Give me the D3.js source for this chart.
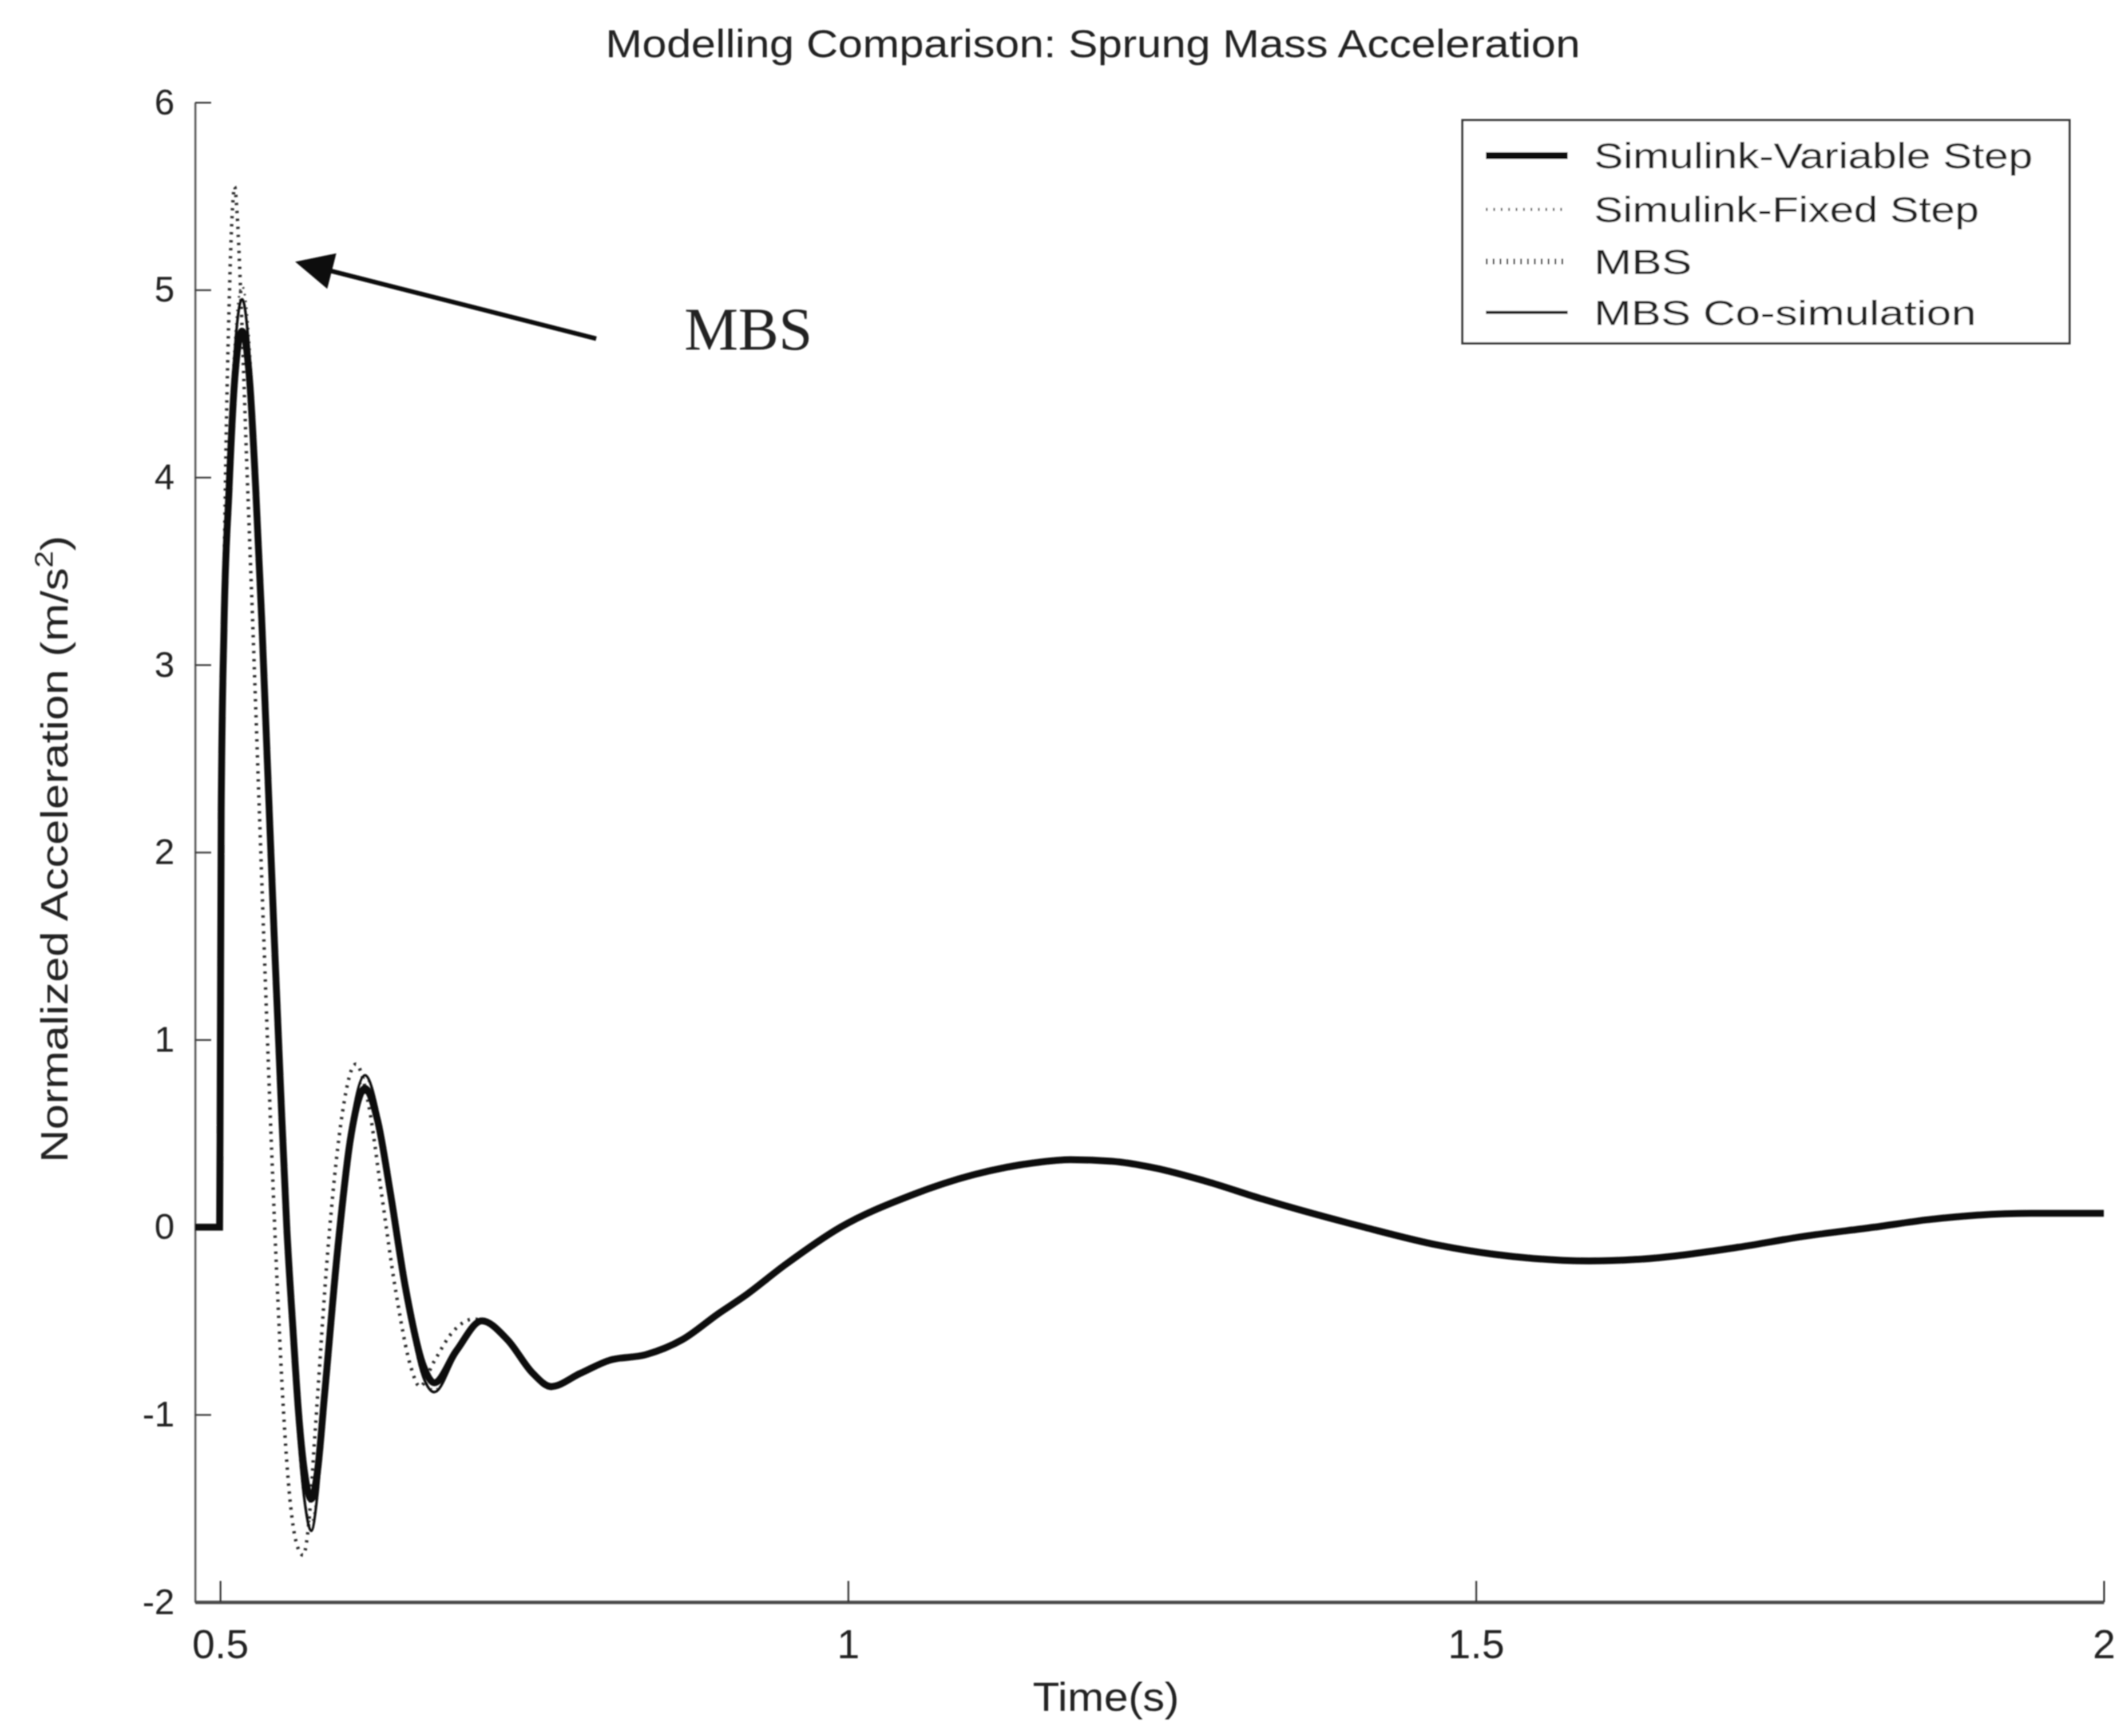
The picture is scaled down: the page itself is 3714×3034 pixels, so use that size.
<!DOCTYPE html>
<html>
<head>
<meta charset="utf-8">
<script src="https://cdn.jsdelivr.net/npm/d3@7"></script>
<style>
  html, body { margin: 0; padding: 0; background: #ffffff; }
  svg { display: block; }
</style>
</head>
<body>
<svg id="chart" width="3714" height="3034"></svg>
<script>
// ---- Data: sprung mass acceleration (m/s^2) against time (s) ----
const timeSimulink = [0.48, 0.4995, 0.5, 0.5008, 0.503, 0.507, 0.5114, 0.5174, 0.5236, 0.5282,
  0.533, 0.538, 0.543, 0.548, 0.553, 0.558, 0.5625, 0.567, 0.5725, 0.5775,
  0.583, 0.5935, 0.6037, 0.6153, 0.6253, 0.6357, 0.6472, 0.6618, 0.6705, 0.688,
  0.7083, 0.7287, 0.749, 0.7634, 0.7867, 0.81, 0.839, 0.868, 0.897, 0.917,
  0.95, 0.994, 1.05, 1.1, 1.15, 1.177, 1.21, 1.245, 1.285, 1.33, 1.411,
  1.47, 1.546, 1.59, 1.628, 1.709, 1.76, 1.817, 1.86, 1.899, 1.942, 2.0];

const accVariableStep = [0, 0, 0.76, 2.22, 3.2, 3.93, 4.51, 4.78, 4.5, 3.95,
  3.25, 2.4, 1.55, 0.75, 0.0, -0.55, -1.0, -1.3, -1.45, -1.3,
  -0.9, -0.12, 0.47, 0.74, 0.57, 0.175, -0.31, -0.74, -0.83, -0.66,
  -0.5, -0.6, -0.78, -0.85, -0.78, -0.71, -0.68, -0.6, -0.46, -0.37,
  -0.2, 0.0, 0.17, 0.28, 0.345, 0.36, 0.352, 0.315, 0.245, 0.15, 0.0,
  -0.096, -0.167, -0.18, -0.172, -0.107, -0.05, 0.0, 0.04, 0.064, 0.074, 0.074];

const accFixedStep = [0, 0, 0.78, 2.32, 3.32, 4.1, 4.7, 5.02, 4.68, 4.06,
  3.3, 2.42, 1.5, 0.64, -0.12, -0.7, -1.15, -1.45, -1.58, -1.4,
  -0.93, -0.1, 0.52, 0.8, 0.62, 0.18, -0.33, -0.8, -0.87, -0.68,
  -0.5, -0.6, -0.79, -0.86, -0.78, -0.71, -0.68, -0.6, -0.46, -0.37,
  -0.2, 0.0, 0.17, 0.28, 0.345, 0.36, 0.352, 0.315, 0.245, 0.15, 0.0,
  -0.096, -0.167, -0.18, -0.172, -0.107, -0.05, 0.0, 0.04, 0.064, 0.074, 0.074];

const accCoSimulation = [0, 0, 0.78, 2.3, 3.3, 4.05, 4.65, 4.95, 4.62, 4.02,
  3.28, 2.4, 1.5, 0.66, -0.1, -0.67, -1.13, -1.45, -1.62, -1.42,
  -0.95, -0.1, 0.52, 0.81, 0.62, 0.18, -0.33, -0.8, -0.88, -0.68,
  -0.5, -0.6, -0.79, -0.86, -0.78, -0.71, -0.68, -0.6, -0.46, -0.37,
  -0.2, 0.0, 0.17, 0.28, 0.345, 0.36, 0.352, 0.315, 0.245, 0.15, 0.0,
  -0.096, -0.167, -0.18, -0.172, -0.107, -0.05, 0.0, 0.04, 0.064, 0.074, 0.074];

const timeMBS = [0.48, 0.4995, 0.5, 0.5015, 0.504, 0.507, 0.5095, 0.5115, 0.5135, 0.5165,
  0.521, 0.526, 0.531, 0.536, 0.541, 0.546, 0.551, 0.5555, 0.5605, 0.566,
  0.5705, 0.5755, 0.586, 0.596, 0.608, 0.618, 0.628, 0.64, 0.652, 0.659,
  0.67, 0.685, 0.702, 0.7083, 0.7287, 0.749, 0.7634, 0.7867, 0.81, 0.839,
  0.868, 0.897, 0.917, 0.95, 0.994, 1.05, 1.1, 1.15, 1.177, 1.21,
  1.245, 1.285, 1.33, 1.411, 1.47, 1.546, 1.59, 1.628, 1.709, 1.76,
  1.817, 1.86, 1.899, 1.942, 2.0];

const accMBS = [0, 0, 0.8, 2.5, 3.9, 4.9, 5.4, 5.55, 5.4, 4.95,
  4.1, 3.2, 2.25, 1.3, 0.4, -0.4, -1.05, -1.45, -1.68, -1.75,
  -1.58, -1.1, -0.1, 0.55, 0.87, 0.66, 0.2, -0.35, -0.75, -0.85,
  -0.72, -0.56, -0.49, -0.5, -0.6, -0.79, -0.86, -0.78, -0.71, -0.68,
  -0.6, -0.46, -0.37, -0.2, 0.0, 0.17, 0.28, 0.345, 0.36, 0.352,
  0.315, 0.245, 0.15, 0.0, -0.096, -0.167, -0.18, -0.172, -0.107, -0.05,
  0.0, 0.04, 0.064, 0.074, 0.074];

const seriesNames = ["Simulink-Variable Step", "Simulink-Fixed Step", "MBS", "MBS Co-simulation"];
const xTickValues = [0.5, 1, 1.5, 2];
const yTickValues = [-2, -1, 0, 1, 2, 3, 4, 5, 6];
const xDomain = [0.48, 2];
const yDomain = [-2, 6];

const titleText = "Modelling Comparison: Sprung Mass Acceleration";
const xLabelText = "Time(s)";
const yLabelMain = "Normalized Acceleration (m/s";
const yLabelSup = "2";
const yLabelEnd = ")";

// callout: arrow tail and tip, label anchor (data units)
const calloutText = "MBS";
const calloutTail = [0.7994, 4.74];
const calloutTip = [0.5597, 5.15];
const calloutLabelAt = [0.8696, 4.68];

// ---- Layout ----
const W = 3714, H = 3034;
const plot = { left: 341, right: 3677, top: 179, bottom: 2800 };
const sansFont = "'Liberation Sans', Arial, Helvetica, sans-serif";
const serifFont = "'Liberation Serif', 'Times New Roman', serif";

const svg = d3.select("#chart").attr("viewBox", `0 0 ${W} ${H}`);
svg.append("rect").attr("width", W).attr("height", H).attr("fill", "#ffffff");

const defs = svg.append("defs");
defs.append("filter").attr("id", "soft").attr("x", "-5%").attr("y", "-5%").attr("width", "110%").attr("height", "110%")
  .append("feGaussianBlur").attr("stdDeviation", 1.3);

const root = svg.append("g").attr("filter", "url(#soft)");

const x = d3.scaleLinear().domain(xDomain).range([plot.left, plot.right]);
const y = d3.scaleLinear().domain(yDomain).range([plot.bottom, plot.top]);

// stretch a text element horizontally to a given width
function fitWidth(sel, width) {
  const w = sel.node().getBBox().width;
  if (w > 0) sel.attr("transform", `scale(${width / w},1)`);
}

// ---- Axes ----
const yAxis = d3.axisLeft(y).tickValues(yTickValues).tickSizeInner(-28).tickSizeOuter(0)
  .tickPadding(36).tickFormat(d => String(d));
const xAxis = d3.axisBottom(x).tickValues(xTickValues).tickSizeInner(-37).tickSizeOuter(0)
  .tickPadding(48).tickFormat(d => String(d));

const gy = root.append("g").attr("transform", `translate(${plot.left},0)`).call(yAxis);
const gx = root.append("g").attr("transform", `translate(0,${plot.bottom})`).call(xAxis);

gy.select(".domain").attr("stroke", "#5a5a5a").attr("stroke-width", 3.5);
gy.selectAll(".tick line").attr("stroke", "#3a3a3a").attr("stroke-width", 3);
gy.selectAll(".tick text").attr("font-family", sansFont).attr("font-size", 63).attr("fill", "#222");

gx.select(".domain").attr("stroke", "#4a4a4a").attr("stroke-width", 6);
gx.selectAll(".tick line").attr("stroke", "#333").attr("stroke-width", 3);
gx.selectAll(".tick text").attr("font-family", sansFont).attr("font-size", 71).attr("fill", "#222");

// ---- Series ----
const lineGen = d3.line()
  .x(d => x(d[0]))
  .y(d => y(d[1]))
  .curve(d3.curveMonotoneX);

const zip = (ts, vs) => ts.map((t, i) => [t, vs[i]]);

const series = [
  { name: seriesNames[2], data: zip(timeMBS, accMBS), color: "#2a2a2a", width: 6, dash: "4 10" },
  { name: seriesNames[1], data: zip(timeSimulink, accFixedStep), color: "#444", width: 4, dash: "3 9" },
  { name: seriesNames[0], data: zip(timeSimulink, accVariableStep), color: "#111", width: 12, dash: null },
  { name: seriesNames[3], data: zip(timeSimulink, accCoSimulation), color: "#111", width: 4.5, dash: null }
];

root.append("g").selectAll("path")
  .data(series)
  .join("path")
  .attr("d", s => lineGen(s.data))
  .attr("fill", "none")
  .attr("stroke", s => s.color)
  .attr("stroke-width", s => s.width)
  .attr("stroke-dasharray", s => s.dash)
  .attr("stroke-linejoin", "miter")
  .attr("stroke-miterlimit", 3);

// ---- Title and axis labels ----
const titleG = root.append("g").attr("transform", "translate(1910,100)");
const title = titleG.append("text").attr("text-anchor", "middle")
  .attr("font-family", sansFont).attr("font-size", 68).attr("fill", "#222").text(titleText);
fitWidth(title, 1704);

const xLabG = root.append("g").attr("transform", "translate(1933,2990)");
const xLab = xLabG.append("text").attr("text-anchor", "middle")
  .attr("font-family", sansFont).attr("font-size", 70).attr("fill", "#222").text(xLabelText);
fitWidth(xLab, 256);

const yLabG = root.append("g").attr("transform", "translate(118,1484) rotate(-90)");
const yLab = yLabG.append("text").attr("text-anchor", "middle")
  .attr("font-family", sansFont).attr("font-size", 66).attr("fill", "#222");
yLab.append("tspan").text(yLabelMain);
yLab.append("tspan").attr("font-size", 44).attr("dy", -26).text(yLabelSup);
yLab.append("tspan").attr("dy", 26).text(yLabelEnd);
fitWidth(yLab, 1096);

// ---- Callout arrow ----
const tail = [x(calloutTail[0]), y(calloutTail[1])];
const tip = [x(calloutTip[0]), y(calloutTip[1])];
const dx = tip[0] - tail[0], dy = tip[1] - tail[1];
const len = Math.hypot(dx, dy);
const ux = dx / len, uy = dy / len;
const headLen = 66, headHalf = 32;
const base = [tip[0] - ux * headLen, tip[1] - uy * headLen];
root.append("line")
  .attr("x1", tail[0]).attr("y1", tail[1])
  .attr("x2", base[0] + ux * 6).attr("y2", base[1] + uy * 6)
  .attr("stroke", "#111").attr("stroke-width", 8);
root.append("polygon")
  .attr("points", [
    tip,
    [base[0] - uy * headHalf, base[1] + ux * headHalf],
    [base[0] + uy * headHalf, base[1] - ux * headHalf]
  ].map(p => p.join(",")).join(" "))
  .attr("fill", "#111");
root.append("text")
  .attr("x", x(calloutLabelAt[0])).attr("y", y(calloutLabelAt[1]))
  .attr("font-family", serifFont).attr("font-size", 106).attr("fill", "#222")
  .text(calloutText);

// ---- Legend ----
const legend = { x0: 2556, y0: 210, x1: 3617, y1: 600 };
const lg = root.append("g");
lg.append("rect")
  .attr("x", legend.x0).attr("y", legend.y0)
  .attr("width", legend.x1 - legend.x0).attr("height", legend.y1 - legend.y0)
  .attr("fill", "#ffffff").attr("stroke", "#3a3a3a").attr("stroke-width", 4);

const legendRows = [
  { name: seriesNames[0], color: "#111", width: 12, dash: null, textW: 767 },
  { name: seriesNames[1], color: "#555", width: 5, dash: "3 10", textW: 673 },
  { name: seriesNames[2], color: "#333", width: 10, dash: "3 9", textW: 171 },
  { name: seriesNames[3], color: "#111", width: 5, dash: null, textW: 668 }
];
const rowY = [272, 366, 457, 546];
legendRows.forEach((r, i) => {
  lg.append("line")
    .attr("x1", 2597).attr("x2", 2740).attr("y1", rowY[i]).attr("y2", rowY[i])
    .attr("stroke", r.color).attr("stroke-width", r.width)
    .attr("stroke-dasharray", r.dash);
  const g = lg.append("g").attr("transform", `translate(2786,${rowY[i] + 22})`);
  const t = g.append("text").attr("font-family", sansFont).attr("font-size", 62)
    .attr("fill", "#222").text(r.name);
  fitWidth(t, r.textW);
});
</script>
</body>
</html>
